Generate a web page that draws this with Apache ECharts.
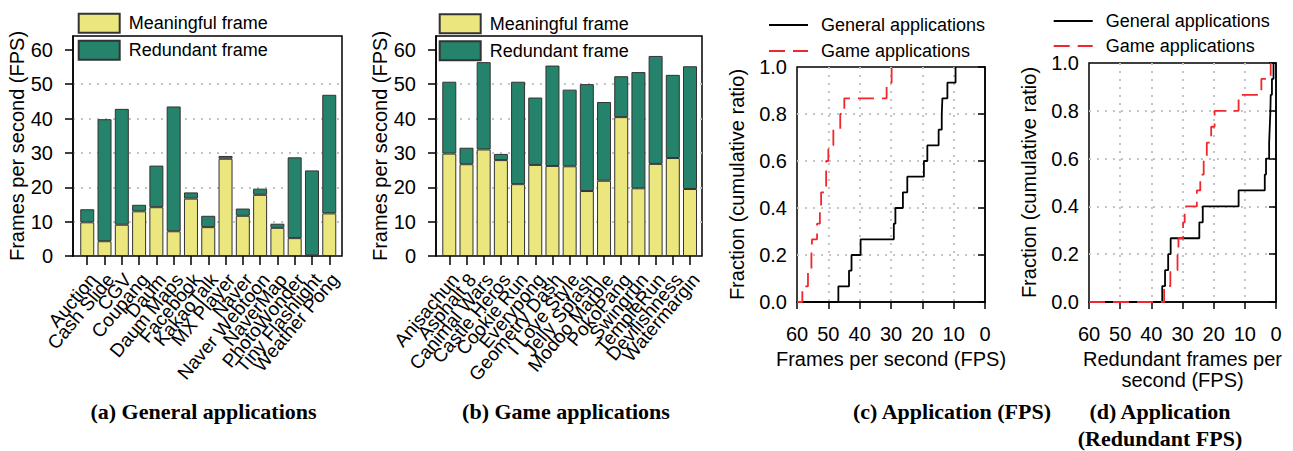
<!DOCTYPE html>
<html><head><meta charset="utf-8">
<script src="https://cdn.jsdelivr.net/npm/echarts@6/dist/echarts.min.js"></script>
<style>html,body{margin:0;padding:0;background:#fff}#c{width:1293px;height:451px}</style>
</head><body><div id="c"></div>
<script>
const generalApps = ['Auction','Cash Slide','CGV','Coupang','Daum','Daum Maps','Facebook','KakaoTalk','MX Player','Naver','Naver Webtoon','NaverMap','PhotoWonder','Tiny Flashlight','Weather Pong'];
const generalMeaningful = [9.8, 4.3, 9.1, 13.0, 14.2, 7.2, 16.7, 8.4, 28.3, 11.7, 17.8, 8.2, 5.2, 0.2, 12.4];
const generalRedundant  = [3.8, 35.5, 33.7, 1.9, 12.1, 36.3, 1.8, 3.3, 0.8, 2.1, 1.8, 1.2, 23.5, 24.7, 34.5];
const gameApps = ['Anisachun','Asphalt 8','Canimal Wars','Castle Heros','Cookie Run','Everypong','Geometry Dash','I Love Style','Jelly Splash','Modoo Marble','PokoPang','Swingrun','TempleRun','Devilishness','Watermargin'];
const gameMeaningful = [29.8, 26.7, 31.0, 27.9, 20.9, 26.5, 26.2, 26.1, 18.9, 21.9, 40.4, 19.7, 26.8, 28.5, 19.5];
const gameRedundant  = [20.9, 4.8, 25.4, 1.8, 29.8, 19.6, 29.2, 22.3, 31.1, 22.9, 11.9, 33.8, 31.4, 24.2, 35.7];
const barYTicks = [0, 10, 20, 30, 40, 50, 60];
const cdfXTicks = [0, 10, 20, 30, 40, 50, 60];
const cdfYTicks = [0, 0.2, 0.4, 0.6, 0.8, 1.0];
// CDF step points: [fps, cumulative fraction]
const fpsGeneralCdf = [[60,0],[46.8,0.0667],[43.4,0.1333],[42.6,0.2],[39.7,0.2667],[29.1,0.3333],[28.6,0.4],[26.2,0.4667],[24.8,0.5333],[19.5,0.6],[18.4,0.6667],[14.8,0.7333],[13.8,0.8],[13.6,0.8667],[12.0,0.9333],[9.4,1.0]];
const fpsGameCdf = [[60,0],[58.3,0.0667],[56.5,0.1333],[55.4,0.2],[55.2,0.2667],[53.6,0.3333],[52.7,0.4],[52.3,0.4667],[50.7,0.5333],[50.7,0.6],[50.0,0.6667],[48.4,0.7333],[46.2,0.8],[44.9,0.8667],[31.4,0.9333],[29.8,1.0]];
const redGeneralCdf = [[60,0],[36.5,0.0667],[35.6,0.1333],[34.6,0.2],[33.8,0.2667],[24.6,0.3333],[23.5,0.4],[12.0,0.4667],[3.6,0.5333],[3.2,0.6],[2.2,0.6667],[2.0,0.7333],[1.8,0.8],[1.7,0.8667],[1.3,0.9333],[0.8,1.0]];
const redGameCdf = [[60,0],[35.9,0.0667],[33.9,0.1333],[31.6,0.2],[31.3,0.2667],[29.8,0.3333],[29.3,0.4],[25.4,0.4667],[24.3,0.5333],[23.2,0.6],[22.2,0.6667],[20.8,0.7333],[19.7,0.8],[12.0,0.8667],[4.7,0.9333],[1.7,1.0]];

const FONT = '"Liberation Sans", Arial, sans-serif';
const YEL = '#ebe77e', GRN = '#26836b', RED = '#f0282d';
const dotted = {show:true, showMinLine:false, showMaxLine:false, lineStyle:{color:'#c4c4c4', width:2, type:[2,6]}};
const axLine = {show:true, lineStyle:{color:'#000', width:1.5}};

function frameY(idx, name){
  return {gridIndex: idx, type:'value', min:0, max:64, interval:10,
    axisLine: axLine, axisTick:{show:true, length:8, customValues: barYTicks, lineStyle:{color:'#000', width:1.5}},
    axisLabel:{fontSize:20, color:'#000', margin:20, customValues: barYTicks},
    splitLine: dotted,
    name: name, nameLocation:'middle', nameGap:44, nameTextStyle:{fontSize:20, color:'#000'}};
}
function hiddenY(idx){ return {gridIndex: idx, type:'value', min:0, max:64, show:false}; }
function catX(idx, data){
  return {gridIndex: idx, type:'category', data: data,
    axisLine:{show:false}, axisTick:{show:true, alignWithLabel:true, length:9, lineStyle:{color:'#000', width:1.5}},
    axisLabel:{rotate:50, interval:0, fontSize:19, color:'#000', margin:27, padding:[0,-9,0,0]},
    splitLine:{show:false}};
}
function cdfX(idx, name){
  return {gridIndex: idx, type:'value', min:0, max:60, interval:10, inverse:true,
    axisLine: axLine, axisTick:{show:true, length:7, lineStyle:{color:'#000', width:1.5}},
    axisLabel:{fontSize:20, color:'#000', margin:22, showMinLabel:true, showMaxLabel:true},
    splitLine: dotted,
    name: name, nameLocation:'middle', nameGap:44, nameTextStyle:{fontSize:20, color:'#000', lineHeight:21}};
}
function cdfY(idx){
  return {gridIndex: idx, type:'value', min:0, max:1, interval:0.2,
    axisLine: axLine, axisTick:{show:true, length:7, lineStyle:{color:'#000', width:1.5}},
    axisLabel:{fontSize:20, color:'#000', margin:10, formatter: v => v.toFixed(1)},
    splitLine: dotted,
    name:'Fraction (cumulative ratio)', nameLocation:'middle', nameGap:50, nameTextStyle:{fontSize:20, color:'#000'}};
}
function bar(name, xi, data, color, stack){
  return {name: name, type:'bar', xAxisIndex: xi, yAxisIndex: xi, stack: stack, barWidth:14, data: data,
    itemStyle:{color: color, borderColor:'#333', borderWidth:1}, emphasis:{disabled:true}};
}
function line(name, xi, data, color, dash){
  return {name: name, type:'line', xAxisIndex: xi, yAxisIndex: xi, step:'end', symbol:'none', data: data,
    lineStyle:{color: color, width:1.8, type: dash ? [16,8] : 'solid'}, itemStyle:{color: color}};
}
function barLegend(left, top){
  return {data:['Meaningful frame','Redundant frame'], left:left, top:top, orient:'vertical', padding:0,
    itemWidth:41, itemHeight:19, itemGap:6, icon:'rect', selectedMode:false,
    textStyle:{fontSize:18, color:'#000', padding:[0,0,0,4]}};
}
function lineLegend(left, top, gap){
  return {data:['General applications','Game applications'], left:left, top:top, orient:'vertical', padding:0,
    itemWidth:39, itemHeight:14, itemGap:gap, selectedMode:false,
    itemStyle:{color:'rgba(0,0,0,0)', borderColor:'rgba(0,0,0,0)', borderWidth:0, opacity:0},
    textStyle:{fontSize:18, color:'#000', padding:[0,0,0,8]}};
}
function title(x, y, text){
  return {type:'text', x:x, y:y, style:{text:text, font:'bold 22px "Liberation Serif", "Times New Roman", serif', textAlign:'center', textVerticalAlign:'middle', fill:'#000'}};
}

const chart = echarts.init(document.getElementById('c'), null, {renderer:'svg'});
chart.setOption({
  backgroundColor:'#fff',
  animation:false,
  textStyle:{fontFamily: FONT},
  grid:[
    {left:73, top:36, width:269, height:220, show:true, borderColor:'#000', borderWidth:1.5},
    {left:78.6, top:36, width:259.3, height:220},
    {left:436, top:36, width:266, height:220, show:true, borderColor:'#000', borderWidth:1.5},
    {left:440.7, top:36, width:257.9, height:220},
    {left:797, top:67, width:188, height:235, show:true, borderColor:'#000', borderWidth:1.5},
    {left:1089, top:63, width:187, height:239, show:true, borderColor:'#000', borderWidth:1.5}
  ],
  xAxis:[
    {gridIndex:0, type:'value', min:0, max:1, show:false},
    catX(1, generalApps),
    {gridIndex:2, type:'value', min:0, max:1, show:false},
    catX(3, gameApps),
    cdfX(4, 'Frames per second (FPS)'),
    cdfX(5, 'Redundant frames per\nsecond (FPS)')
  ],
  yAxis:[
    frameY(0, 'Frames per second (FPS)'), hiddenY(1),
    frameY(2, 'Frames per second (FPS)'), hiddenY(3),
    cdfY(4), cdfY(5)
  ],
  legend:[barLegend(77.7, 12.7), barLegend(438.7, 13.3), lineLegend(768, 16, 8), lineLegend(1052.7, 12, 7)],
  series:[
    bar('Meaningful frame', 1, generalMeaningful, YEL, 'g'),
    bar('Redundant frame', 1, generalRedundant, GRN, 'g'),
    bar('Meaningful frame', 3, gameMeaningful, YEL, 'm'),
    bar('Redundant frame', 3, gameRedundant, GRN, 'm'),
    line('General applications', 4, fpsGeneralCdf, '#000', false),
    line('Game applications', 4, fpsGameCdf, RED, true),
    line('General applications', 5, redGeneralCdf, '#000', false),
    line('Game applications', 5, redGameCdf, RED, true)
  ],
  graphic:[
    title(203.5, 411, '(a) General applications'),
    title(566, 411, '(b) Game applications'),
    title(952, 411, '(c) Application (FPS)'),
    title(1160, 411, '(d) Application'),
    title(1160, 438, '(Redundant FPS)')
  ]
});
</script></body></html>
